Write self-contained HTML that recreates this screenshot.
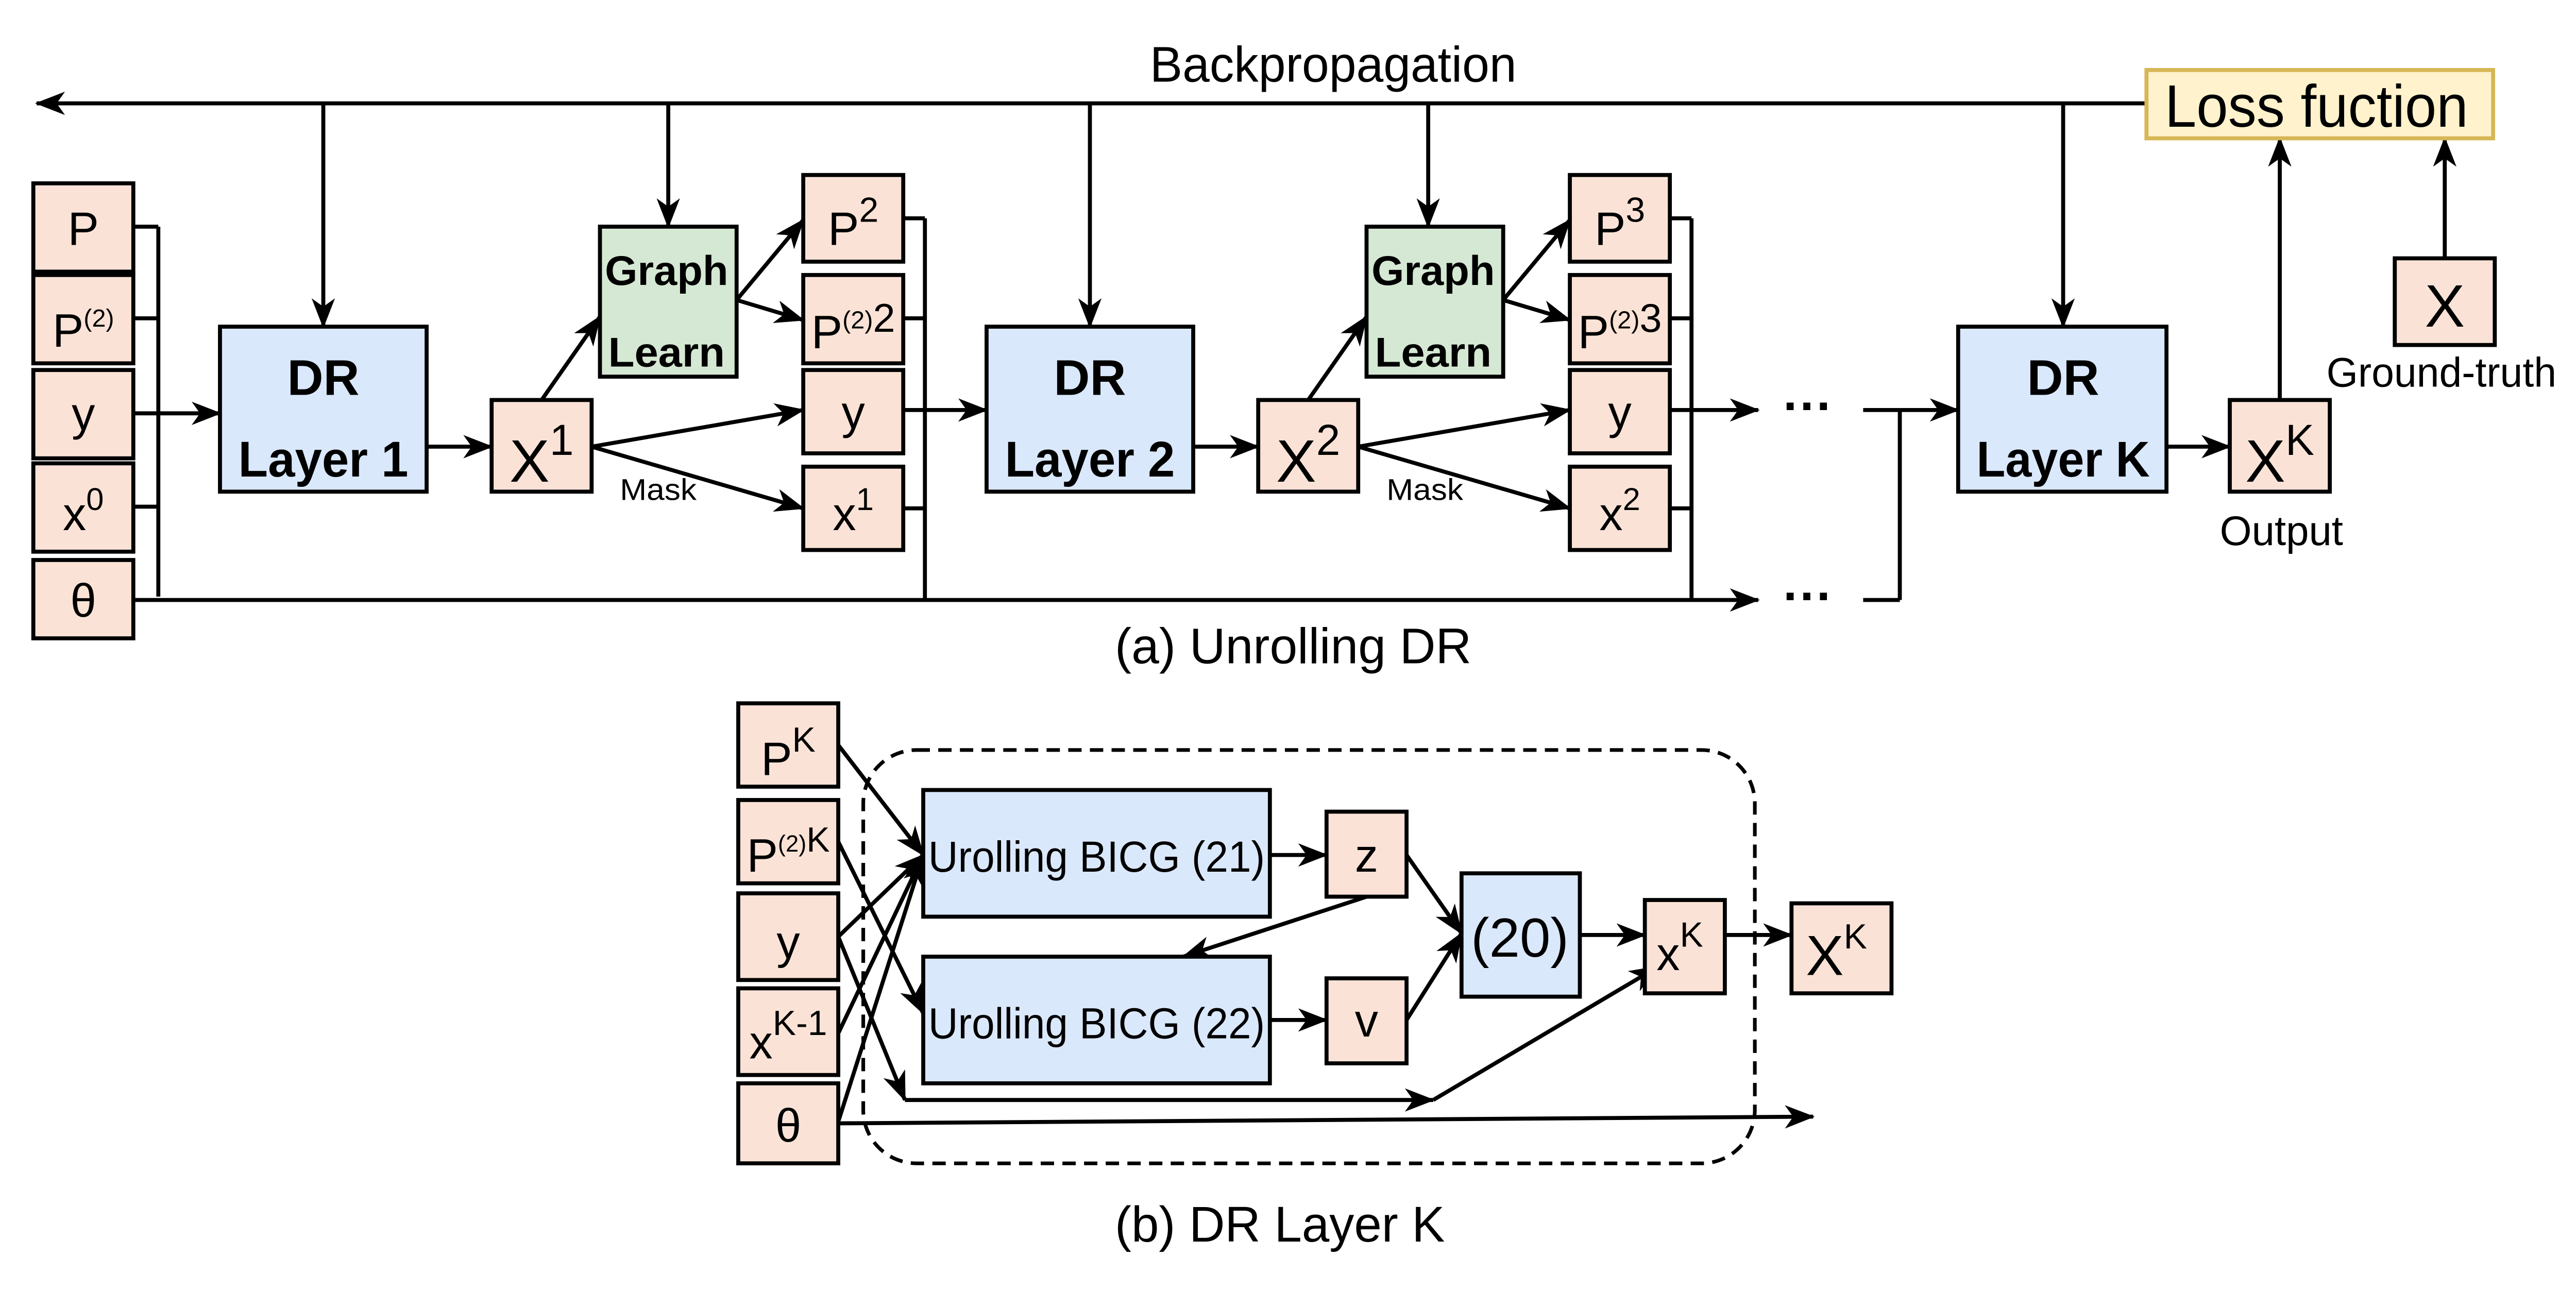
<!DOCTYPE html>
<html><head><meta charset="utf-8"><style>
html,body{margin:0;padding:0;background:#fff;}
svg{display:block;}
text{font-family:"Liberation Sans",sans-serif;fill:#000;}
</style></head><body>
<svg width="5072" height="2504" viewBox="0 0 1568 774" preserveAspectRatio="none" xmlns="http://www.w3.org/2000/svg">
<defs>
<marker id="a" markerUnits="userSpaceOnUse" markerWidth="18" markerHeight="14" refX="17" refY="7" orient="auto">
<path d="M0,0 L18,7 L0,14 L5,7 z" fill="#000"/>
</marker>
</defs>
<rect width="1568" height="774" fill="#fff"/>
<g stroke="#000" stroke-width="2.4" fill="none">
<line x1="1288" y1="62" x2="22" y2="62" marker-end="url(#a)"/>
<line x1="194" y1="62" x2="194" y2="196" marker-end="url(#a)"/>
<line x1="401" y1="62" x2="401" y2="136" marker-end="url(#a)"/>
<line x1="654" y1="62" x2="654" y2="196" marker-end="url(#a)"/>
<line x1="857" y1="62" x2="857" y2="136" marker-end="url(#a)"/>
<line x1="1238" y1="62" x2="1238" y2="196" marker-end="url(#a)"/>
<path d="M80,136 H95 M80,191 H95 M80,304 H95 M95,136 V358"/>
<line x1="80" y1="248" x2="132" y2="248" marker-end="url(#a)"/>
<line x1="80" y1="360" x2="1055" y2="360" marker-end="url(#a)"/>
<line x1="256" y1="268" x2="295" y2="268" marker-end="url(#a)"/>
<line x1="325" y1="240" x2="360" y2="190" marker-end="url(#a)"/>
<line x1="442" y1="180" x2="482" y2="132" marker-end="url(#a)"/>
<line x1="442" y1="180" x2="482" y2="192" marker-end="url(#a)"/>
<line x1="355" y1="268" x2="482" y2="246" marker-end="url(#a)"/>
<line x1="355" y1="268" x2="482" y2="305" marker-end="url(#a)"/>
<path d="M542,131 H555 M542,191 H555 M542,305 H555 M555,131 V360"/>
<line x1="542" y1="246" x2="592" y2="246" marker-end="url(#a)"/>
<line x1="716" y1="268" x2="755" y2="268" marker-end="url(#a)"/>
<line x1="785" y1="240" x2="820" y2="190" marker-end="url(#a)"/>
<line x1="902" y1="180" x2="942" y2="132" marker-end="url(#a)"/>
<line x1="902" y1="180" x2="942" y2="192" marker-end="url(#a)"/>
<line x1="815" y1="268" x2="942" y2="246" marker-end="url(#a)"/>
<line x1="815" y1="268" x2="942" y2="305" marker-end="url(#a)"/>
<path d="M1002,131 H1015 M1002,191 H1015 M1002,305 H1015 M1015,131 V360"/>
<line x1="1002" y1="246" x2="1055" y2="246" marker-end="url(#a)"/>
<path d="M1118,246 H1140 M1118,360 H1140 M1140,246 V360"/>
<line x1="1140" y1="246" x2="1175" y2="246" marker-end="url(#a)"/>
<line x1="1300" y1="268" x2="1338" y2="268" marker-end="url(#a)"/>
<line x1="1368" y1="240" x2="1368" y2="83" marker-end="url(#a)"/>
<line x1="1467" y1="155" x2="1467" y2="83" marker-end="url(#a)"/>
</g>
<g stroke="#000" stroke-width="2.4">
<rect x="1288" y="42" width="208" height="41" fill="#fff2cc" stroke="#d6b656"/>
<g fill="#fae3d6">
<rect x="20" y="110" width="60" height="53"/><rect x="20" y="165" width="60" height="53"/>
<rect x="20" y="222" width="60" height="53"/><rect x="20" y="278" width="60" height="53"/>
<rect x="20" y="336" width="60" height="47"/>
<rect x="295" y="240" width="60" height="55"/>
<rect x="482" y="105" width="60" height="52"/><rect x="482" y="165" width="60" height="53"/>
<rect x="482" y="222" width="60" height="50"/><rect x="482" y="280" width="60" height="50"/>
<rect x="755" y="240" width="60" height="55"/>
<rect x="942" y="105" width="60" height="52"/><rect x="942" y="165" width="60" height="53"/>
<rect x="942" y="222" width="60" height="50"/><rect x="942" y="280" width="60" height="50"/>
<rect x="1338" y="240" width="60" height="55"/>
<rect x="1437" y="155" width="60" height="52"/>
</g>
<g fill="#dae8fc">
<rect x="132" y="196" width="124" height="99"/>
<rect x="592" y="196" width="124" height="99"/>
<rect x="1175" y="196" width="125" height="99"/>
</g>
<g fill="#d5e8d4">
<rect x="360" y="136" width="82" height="90"/>
<rect x="820" y="136" width="82" height="90"/>
</g>
</g>
<g font-size="28" text-anchor="middle">
<text x="800" y="49" font-size="30" textLength="220" lengthAdjust="spacingAndGlyphs">Backpropagation</text>
<text x="1390" y="76" font-size="36" textLength="182" lengthAdjust="spacingAndGlyphs">Loss fuction</text>
<text x="50" y="147">P</text>
<text x="50" y="208">P<tspan font-size="15" dy="-12">(2)</tspan></text>
<text x="50" y="258">y</text>
<text x="50" y="318">x<tspan font-size="19" dy="-12">0</tspan></text>
<text x="50" y="370">θ</text>
<text x="325" y="289" font-size="36">X<tspan font-size="26" dy="-16">1</tspan></text>
<text x="512" y="147">P<tspan font-size="21" dy="-14">2</tspan></text>
<text x="512" y="209">P<tspan font-size="15" dy="-12">(2)</tspan><tspan font-size="24" dy="2">2</tspan></text>
<text x="512" y="257">y</text>
<text x="512" y="318">x<tspan font-size="19" dy="-12">1</tspan></text>
<text x="785" y="289" font-size="36">X<tspan font-size="26" dy="-16">2</tspan></text>
<text x="972" y="147">P<tspan font-size="21" dy="-14">3</tspan></text>
<text x="972" y="209">P<tspan font-size="15" dy="-12">(2)</tspan><tspan font-size="24" dy="2">3</tspan></text>
<text x="972" y="257">y</text>
<text x="972" y="318">x<tspan font-size="19" dy="-12">2</tspan></text>
<text x="1368" y="289" font-size="36">X<tspan font-size="26" dy="-16">K</tspan></text>
<text x="1467" y="196" font-size="36">X</text>
<text x="1465" y="232" font-size="25" textLength="138" lengthAdjust="spacingAndGlyphs">Ground-truth</text>
<text x="1369" y="327" font-size="25" textLength="74" lengthAdjust="spacingAndGlyphs">Output</text>
<text x="395" y="300" font-size="18" textLength="46" lengthAdjust="spacingAndGlyphs">Mask</text>
<text x="855" y="300" font-size="18" textLength="46" lengthAdjust="spacingAndGlyphs">Mask</text>
<g font-weight="bold" font-size="30">
<text x="194" y="237">DR</text><text x="194" y="286" textLength="102" lengthAdjust="spacingAndGlyphs">Layer 1</text>
<text x="654" y="237">DR</text><text x="654" y="286" textLength="102" lengthAdjust="spacingAndGlyphs">Layer 2</text>
<text x="1238" y="237">DR</text><text x="1238" y="286" textLength="104" lengthAdjust="spacingAndGlyphs">Layer K</text>
<text x="400" y="171" font-size="25" textLength="74" lengthAdjust="spacingAndGlyphs">Graph</text><text x="400" y="220" font-size="25" textLength="70" lengthAdjust="spacingAndGlyphs">Learn</text>
<text x="860" y="171" font-size="25" textLength="74" lengthAdjust="spacingAndGlyphs">Graph</text><text x="860" y="220" font-size="25" textLength="70" lengthAdjust="spacingAndGlyphs">Learn</text>
<text x="1085" y="254" font-size="30">···</text>
<text x="1085" y="368" font-size="30">···</text>
</g>
<text x="776" y="398" font-size="30" textLength="214" lengthAdjust="spacingAndGlyphs">(a) Unrolling DR</text>
<text x="768" y="745" font-size="30" textLength="198" lengthAdjust="spacingAndGlyphs">(b) DR Layer K</text>
</g>
<rect x="518" y="450" width="535" height="248" rx="32" fill="none" stroke="#000" stroke-width="2.2" stroke-dasharray="8,5"/>
<g stroke="#000" stroke-width="2.4" fill="none">
<line x1="503" y1="447" x2="554" y2="513" marker-end="url(#a)"/>
<line x1="503" y1="505" x2="554" y2="608" marker-end="url(#a)"/>
<line x1="503" y1="562" x2="554" y2="513" marker-end="url(#a)"/>
<line x1="503" y1="620" x2="554" y2="513" marker-end="url(#a)"/>
<line x1="503" y1="673" x2="554" y2="513" marker-end="url(#a)"/>
<line x1="503" y1="562" x2="543" y2="660" marker-end="url(#a)"/>
<line x1="543" y1="660" x2="860" y2="660" marker-end="url(#a)"/>
<line x1="860" y1="660" x2="995" y2="580" marker-end="url(#a)"/>
<line x1="503" y1="674" x2="1088" y2="670" marker-end="url(#a)"/>
<line x1="762" y1="513" x2="796" y2="513" marker-end="url(#a)"/>
<line x1="762" y1="612" x2="796" y2="612" marker-end="url(#a)"/>
<line x1="820" y1="538" x2="710" y2="574" marker-end="url(#a)"/>
<line x1="844" y1="513" x2="877" y2="560" marker-end="url(#a)"/>
<line x1="844" y1="612" x2="877" y2="560" marker-end="url(#a)"/>
<line x1="948" y1="561" x2="987" y2="561" marker-end="url(#a)"/>
<line x1="1035" y1="561" x2="1075" y2="561" marker-end="url(#a)"/>
</g>
<g stroke="#000" stroke-width="2.4">
<g fill="#fae3d6">
<rect x="443" y="422" width="60" height="50"/><rect x="443" y="480" width="60" height="50"/>
<rect x="443" y="536" width="60" height="52"/><rect x="443" y="593" width="60" height="52"/>
<rect x="443" y="650" width="60" height="48"/>
<rect x="796" y="487" width="48" height="51"/><rect x="796" y="587" width="48" height="51"/>
<rect x="987" y="540" width="48" height="56"/><rect x="1075" y="542" width="60" height="54"/>
</g>
<g fill="#dae8fc">
<rect x="554" y="474" width="208" height="76"/><rect x="554" y="574" width="208" height="76"/>
<rect x="877" y="524" width="71" height="74"/>
</g>
</g>
<g font-size="28" text-anchor="middle">
<text x="473" y="465">P<tspan font-size="21" dy="-14">K</tspan></text>
<text x="473" y="523">P<tspan font-size="14" dy="-12">(2)</tspan><tspan font-size="21" dy="0">K</tspan></text>
<text x="473" y="575">y</text>
<text x="473" y="635">x<tspan font-size="21" dy="-14">K-1</tspan></text>
<text x="473" y="685">θ</text>
<text x="658" y="523" font-size="26" textLength="202" lengthAdjust="spacingAndGlyphs">Urolling BICG (21)</text>
<text x="658" y="623" font-size="26" textLength="202" lengthAdjust="spacingAndGlyphs">Urolling BICG (22)</text>
<text x="820" y="523">z</text>
<text x="820" y="622">v</text>
<text x="912" y="574" font-size="33">(20)</text>
<text x="1008" y="582">x<tspan font-size="21" dy="-14">K</tspan></text>
<text x="1102" y="585" font-size="34">X<tspan font-size="21" dy="-16">K</tspan></text>
</g>
</svg>
</body></html>
